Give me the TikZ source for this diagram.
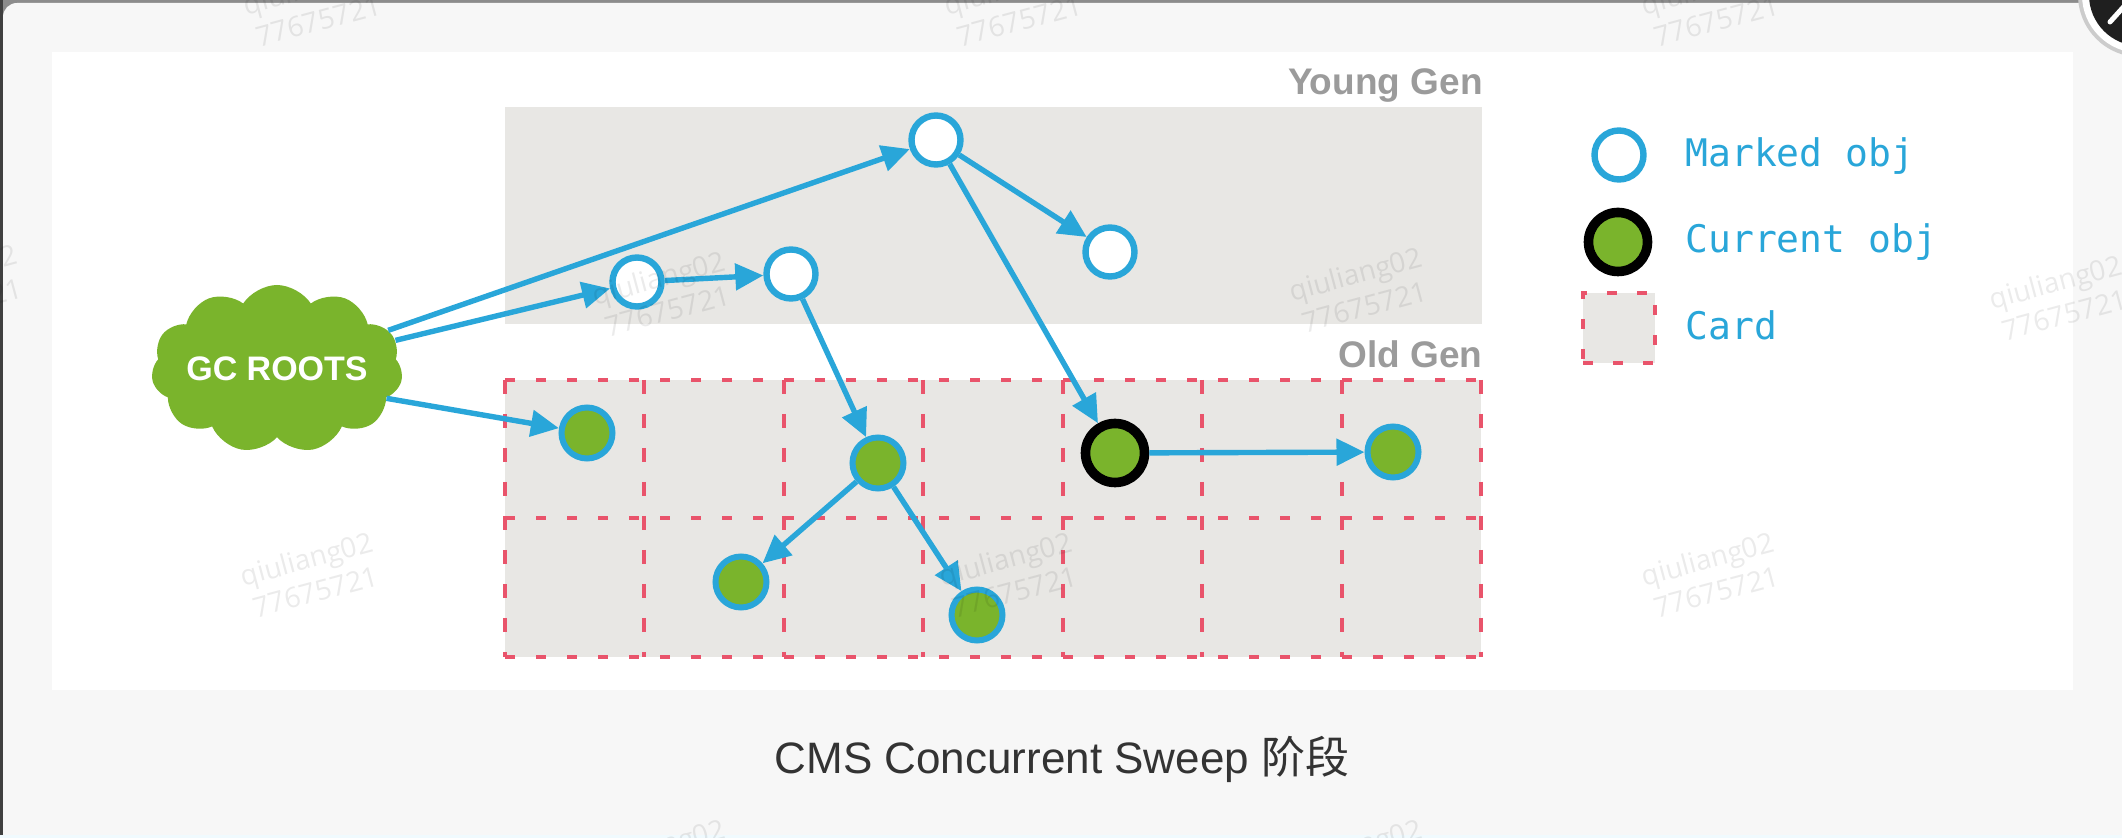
\documentclass[tikz,border=0pt]{standalone}
\usepackage{fontspec}
\setmainfont{Liberation Sans}
\newfontfamily\cjk{Noto Sans CJK SC}
\newfontfamily\legfont{DejaVu Sans Mono}
\newfontfamily\wmfont{Open Sans}
\usetikzlibrary{shapes.symbols,arrows.meta}
\definecolor{jblue}{HTML}{29A6D9}
\definecolor{jgreen}{HTML}{7AB42C}
\definecolor{jgray}{HTML}{E8E7E4}
\definecolor{jred}{HTML}{E9546B}
\definecolor{labgray}{HTML}{9B9B9B}
\definecolor{bgout}{HTML}{F7F7F7}
\definecolor{capgray}{HTML}{333333}
\begin{document}
\begin{tikzpicture}[x=0.5pt,y=-0.5pt,
  marked/.style={circle,draw=jblue,line width=3.2pt,fill=white,minimum size=24.5pt,inner sep=0pt},
  obj/.style={circle,draw=jblue,line width=3pt,fill=jgreen,minimum size=25.5pt,inner sep=0pt},
  curobj/.style={circle,draw=black,line width=4.8pt,fill=jgreen,minimum size=29.5pt,inner sep=0pt},
  arr/.style={draw=jblue,line width=2.7pt,-{Triangle[length=14pt,width=13pt]}},
  hdash/.style={draw=jred,line width=2pt,dash pattern=on 5pt off 10.5pt},
  vdash/.style={draw=jred,line width=2pt,dash pattern=on 7pt off 10pt},
  genlabel/.style={anchor=base east,inner sep=0pt,text=labgray,font=\bfseries\fontsize{18.5pt}{20pt}\selectfont},
  legtext/.style={anchor=base west,inner sep=0pt,text=jblue,font=\legfont\fontsize{19pt}{20pt}\selectfont},
  wm/.style={inner sep=0pt,align=center,rotate=15,text=black,text opacity=0.08,font=\wmfont\fontsize{14pt}{17pt}\selectfont}
]
\useasboundingbox (0,0) rectangle (2122,838);
\begin{scope}
\clip (0,0) rectangle (2122,838);
% frame
\fill[black!45] (0,0) rectangle (2122,838);
\fill[black!75] (0,0) rectangle (3,838);
\fill[bgout,rounded corners=7pt] (3,3) rectangle (2160,870);
\fill[cyan!6] (0,835) rectangle (2122,838);
\fill[white] (52,52) rectangle (2073,690);
% young gen
\fill[jgray] (505,107) rectangle (1482,324);
\node[genlabel] (young) at (1483,95) {Young Gen};
% old gen
\fill[jgray] (505,380) rectangle (1481,657);
\foreach \yy in {380,518,657} \draw[hdash] (505,\yy) -- (1481,\yy);
\foreach \i in {0,...,7} \draw[vdash] ({505+139.43*\i},380) -- ({505+139.43*\i},657);
\node[genlabel] (old) at (1483,368) {Old Gen};
% cloud
\node[cloud,cloud puffs=11,cloud puff arc=115,cloud ignores aspect,minimum width=120pt,minimum height=84pt,
  fill=jgreen,inner sep=0pt,text=white,font=\bfseries\fontsize{17pt}{18pt}\selectfont] (root) at (277,369) {GC ROOTS};
% objects
\node[marked] (A) at (936,140) {};
\node[marked] (B) at (1110,252) {};
\node[marked] (C) at (637,282) {};
\node[marked] (D) at (791,274) {};
\node[obj] (E) at (587,433) {};
\node[obj] (F) at (878,463) {};
\node[obj] (G) at (741,582) {};
\node[obj] (H) at (977,615) {};
\node[curobj] (I) at (1115,453) {};
\node[obj] (J) at (1393,452) {};
% arrows
\draw[arr] (root) -- (A);
\draw[arr] (root) -- (C);
\draw[arr] (root.-15) -- (E);
\draw[arr] (C) -- (D);
\draw[arr] (A) -- (B);
\draw[arr] (A) -- (I);
\draw[arr] (D) -- (F);
\draw[arr] (F) -- (G);
\draw[arr] (F) -- (H);
\draw[arr] (I) -- (J);
% legend
\node[marked] (lmarked) at (1619,155) {};
\node[legtext] (tmarked) at (1685,167) {Marked obj};
\node[curobj] (lcur) at (1618,242) {};
\node[legtext] (tcur) at (1685,253) {Current obj};
\node[draw=jred,fill=jgray,line width=2pt,dash pattern=on 5pt off 10pt,minimum width=36pt,minimum height=35pt,inner sep=0pt] (lcard) at (1619,328) {};
\node[legtext] (tcard) at (1685,340) {Card};
% caption
\node[anchor=base,inner sep=0pt,text=capgray,font=\fontsize{22pt}{26pt}\selectfont] (cap) at (1062,774) {CMS Concurrent Sweep {\cjk 阶段}};
% close button
\fill[black!20] (2140,-5) coordinate (cb) circle (31pt);
\fill[white] (cb) circle (29pt);
\fill[black!88] (cb) circle (25.5pt);
\draw[white,line width=2.5pt,line cap=round] (2110,22) -- (2128,2);
% watermarks
\node[wm] (w1) at (314,4) {qiuliang02\\77675721};
\node[wm] (w2) at (1015,4) {qiuliang02\\77675721};
\node[wm] (w3) at (1712,4) {qiuliang02\\77675721};
\node[wm] (w4) at (-45,287) {qiuliang02\\77675721};
\node[wm] (w5) at (663,294) {qiuliang02\\77675721};
\node[wm] (w6) at (1360,290) {qiuliang02\\77675721};
\node[wm] (w7) at (2060,298) {qiuliang02\\77675721};
\node[wm] (w8) at (311,575) {qiuliang02\\77675721};
\node[wm] (w9) at (1010,575) {qiuliang02\\77675721};
\node[wm] (w10) at (1712,575) {qiuliang02\\77675721};
\node[wm] (w11) at (663,862) {qiuliang02\\77675721};
\node[wm] (w12) at (1360,862) {qiuliang02\\77675721};
\end{scope}
\end{tikzpicture}
\end{document}
